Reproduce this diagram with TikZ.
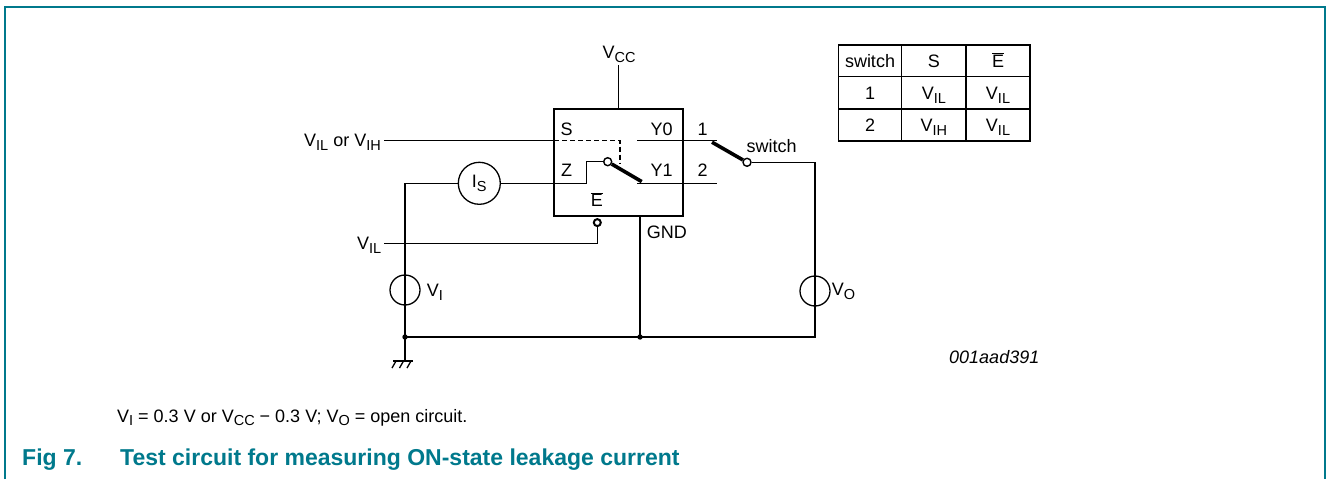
\documentclass[tikz,border=0pt]{standalone}
\usepackage{fontspec}
\setmainfont{Liberation Sans}
\definecolor{nxp}{RGB}{0,121,140}
\newcommand{\mysub}[1]{\raisebox{-0.22em}{\fontsize{14.5}{14.5}\selectfont #1}}
\newcommand{\Ebar}{$\overline{\mbox{E}}$}
\begin{document}
\begin{tikzpicture}[x=1pt,y=-1pt,
  wire/.style={line width=1.3pt},
  blade/.style={line width=3.6pt},
  lbl/.style={font=\fontsize{18}{20}\selectfont, inner sep=0pt, anchor=base},
  src/.style={circle, draw, line width=1.3pt, minimum size=30pt, inner sep=0pt, font=\fontsize{18}{20}\selectfont},
  contact/.style={circle, draw, line width=1.4pt, minimum size=8pt, inner sep=0pt, fill=white},
  tline/.style={line width=1.1pt}]
\useasboundingbox (0,0) rectangle (1327,479);
% frame
\draw[nxp, line width=2pt] (4.5,479) -- (4.5,7) -- (1325,7) -- (1325,479);

% chip
\node[draw, line width=2.8pt, minimum width=129pt, minimum height=107pt, inner sep=0pt] (chip) at (618.5,162.5) {};
\node[lbl] (lS)  at (566.7,135.2) {S};
\node[lbl] (lY0) at (661.7,135.2) {Y0};
\node[lbl] (lZ)  at (566.5,176.8) {Z};
\node[lbl] (lY1) at (661.7,176.8) {Y1};
\node[lbl] (lE)  at (596.8,206.6) {\Ebar};
\node[lbl] (l1)  at (702.7,135.2) {1};
\node[lbl] (l2)  at (702.7,176.8) {2};
\node[lbl] (lsw) at (771.7,152.3) {switch};
\node[lbl, anchor=base west] (lgnd) at (646.7,238.3) {GND};

% VCC
\node[lbl] (lvcc) at (619,58.3) {V\mysub{CC}};
\coordinate (vcc) at (618.5,65);
\draw[wire] (chip.north) -- (vcc);

% S input
\node[lbl, anchor=base east] (lvilih) at (381,146.7) {V\mysub{IL} or V\mysub{IH}};
\coordinate (sL) at (384,140.7);
\coordinate (sIn) at (554,140.7);
\coordinate (dk1) at (620,140.7);
\coordinate (dk2) at (620,164);
\draw[wire] (sL) -- (sIn);
\draw[wire, dash pattern=on 5pt off 3pt] (sIn) -- (dk1) -- (dk2);

% Y0 / Y1 outputs
\coordinate (y0a) at (637,140.7);
\coordinate (c1) at (717,140.7);
\coordinate (y1a) at (637,183.3);
\coordinate (c2) at (717,183.3);
\draw[wire] (y0a) -- (c1);
\draw[wire] (y1a) -- (c2);

% external switch
\node[contact] (sw) at (747,162.3) {};
\coordinate (b1) at (712,142.2);
\draw[blade] (b1) -- (sw);

% inner switch
\node[contact] (zc) at (607.7,161.7) {};
\coordinate (bz) at (641.7,181.6);
\draw[blade] (zc) -- (bz);

% Z path with Is meter
\node[src, minimum size=42pt] (is) at (479.3,183.3) {I\mysub{S}};
\coordinate (zl) at (405,183.3);
\coordinate (zk1) at (586.7,183.3);
\coordinate (zk2) at (586.7,161.7);
\draw[wire] (is.east) -- (zk1) -- (zk2) -- (zc.west);

% left vertical, VI source, ground
\node[src] (vi) at (405,290) {};
\node[lbl, anchor=base west] (lvi) at (426.7,296.7) {V\mysub{I}};
\coordinate (rl) at (405,337);
\coordinate (gnd) at (405,361);
\draw[wire] (is.west) -- (zl) -- (vi.center) -- (rl) -- (gnd);
\draw[wire] ([xshift=-12pt]gnd) -- ([xshift=8pt]gnd);
\draw[wire] ([xshift=-9pt]gnd) -- ++(-4,7);
\draw[wire] ([xshift=-1.5pt]gnd) -- ++(-4,7);
\draw[wire] ([xshift=6pt]gnd) -- ++(-4,7);

% E-bar input
\node[circle, draw, line width=2pt, minimum size=7pt, inner sep=0pt, fill=white] (eb) at (597.3,222.6) {};
\coordinate (ebk) at (597.3,243.3);
\node[lbl, anchor=base east] (lvil) at (381.5,249.3) {V\mysub{IL}};
\coordinate (vilL) at (384,243.3);
\draw[wire] (eb.south) -- (ebk) -- (vilL);

% GND and bottom rail
\coordinate (rm) at (640,337);
\coordinate (rr) at (815,337);
\coordinate (swr) at (815,162.3);
\node[src] (vo) at (815,291) {};
\node[lbl, anchor=base west] (lvo) at (831.7,295.2) {V\mysub{O}};
\draw[wire] (chip.south -| rm) -- (rm);
\draw[wire] (rl) -- (rr) -- (vo.center) -- (swr) -- (sw.east);
\fill (rl) circle (2.7);
\fill (rm) circle (2.7);

\node[lbl, anchor=base west, font=\fontsize{18}{20}\selectfont\itshape] (code) at (949,363.3) {001aad391};

% table
\draw[tline] (838.3,45) rectangle (1030,141);
\draw[tline] (901.7,45) -- (901.7,141);
\draw[tline] (966,45) -- (966,141);
\draw[tline] (838.3,76.7) -- (1030,76.7);
\draw[tline] (838.3,109) -- (1030,109);
\node[lbl] (t11) at (870,67.3) {switch};
\node[lbl] (t12) at (933.9,67.3) {S};
\node[lbl] (t13) at (998,67.3) {\Ebar};
\node[lbl] (t21) at (870,99.6) {1};
\node[lbl] (t22) at (933.9,99.6) {V\mysub{IL}};
\node[lbl] (t23) at (998,99.6) {V\mysub{IL}};
\node[lbl] (t31) at (870,131.7) {2};
\node[lbl] (t32) at (933.9,131.7) {V\mysub{IH}};
\node[lbl] (t33) at (998,131.7) {V\mysub{IL}};

% notes and caption
\node[lbl, anchor=base west] (note) at (117,422) {V\mysub{I} = 0.3 V or V\mysub{CC} − 0.3 V; V\mysub{O} = open circuit.};
\node[inner sep=0pt, anchor=base west, font=\fontsize{23}{26}\selectfont\bfseries, text=nxp] (fig) at (22,465) {Fig 7.};
\node[inner sep=0pt, anchor=base west, font=\fontsize{23}{26}\selectfont\bfseries, text=nxp] (cap) at (120,465) {Test circuit for measuring ON-state leakage current};
\end{tikzpicture}
\end{document}
